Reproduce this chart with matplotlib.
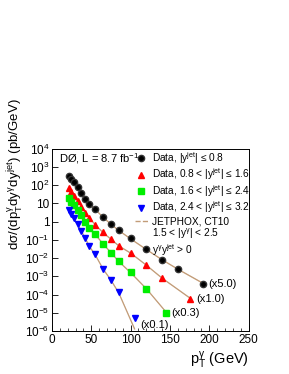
import numpy as np
import matplotlib
matplotlib.use('Agg')
import matplotlib.pyplot as plt
from matplotlib.lines import Line2D
from matplotlib.ticker import FixedLocator, MultipleLocator, LogLocator, NullFormatter

plt.rcParams['font.family'] = ['Liberation Sans', 'DejaVu Sans']
plt.rcParams['mathtext.fontset'] = 'custom'
plt.rcParams['mathtext.rm'] = 'Liberation Sans'
plt.rcParams['mathtext.it'] = 'Liberation Sans'

# values as plotted (already multiplied by the scale factor)
pt_y08 = [21.5, 24.5, 28, 32.5, 37.5, 42.5, 47.5, 55, 65, 75, 85, 100, 120, 140, 160, 192]
xs_y08 = [330, 230, 150, 85, 38, 17, 9.5, 4.8, 1.8, 0.72, 0.33, 0.12, 0.03, 0.008, 0.0025, 4e-4]
th_y08 = [320, 225, 145, 82, 38, 17.5, 9.5, 4.7, 1.75, 0.72, 0.33, 0.115, 0.03, 0.0082, 0.0025, 4.2e-4]

pt_y16 = [21.5, 24.5, 28, 32.5, 37.5, 42.5, 47.5, 55, 65, 75, 85, 100, 120, 140, 176]
xs_y16 = [75, 45, 26, 14, 6.5, 3.2, 1.6, 0.7, 0.26, 0.11, 0.048, 0.019, 0.004, 8e-4, 6e-5]
th_y16 = [72, 44, 25, 13.5, 6.5, 3.2, 1.6, 0.68, 0.25, 0.11, 0.047, 0.019, 0.0041, 8e-4, 6.2e-5]

pt_y24 = [21.5, 24.5, 28, 32.5, 37.5, 42.5, 47.5, 55, 65, 75, 85, 100, 120, 145]
xs_y24 = [20, 12, 8, 4.5, 2.2, 1.0, 0.48, 0.2, 0.06, 0.02, 6.6e-3, 1.7e-3, 2e-4, 1.0e-5]
th_y24 = [19, 12, 7.5, 4.3, 2.1, 1.0, 0.47, 0.2, 0.06, 0.02, 6.5e-3, 1.6e-3, 2.1e-4, 1.1e-5]

pt_y32 = [21.5, 24.5, 28, 32.5, 37.5, 42.5, 47.5, 55, 65, 75, 85, 105]
xs_y32 = [4.5, 2.6, 1.5, 0.75, 0.3, 0.12, 0.045, 0.016, 2.6e-3, 6.5e-4, 1.3e-4, 5e-6]
th_y32 = [4.3, 2.5, 1.4, 0.72, 0.29, 0.12, 0.044, 0.015, 2.5e-3, 6.2e-4, 1.2e-4, 1.3e-6]

scale_labels = ['(x5.0)', '(x1.0)', '(x0.3)', '(x0.1)']
leg_labels = ['Data, |y$^{\\rm jet}$| ≤ 0.8',
              'Data, 0.8 < |y$^{\\rm jet}$| ≤ 1.6',
              'Data, 1.6 < |y$^{\\rm jet}$| ≤ 2.4',
              'Data, 2.4 < |y$^{\\rm jet}$| ≤ 3.2']

series = [
    (pt_y08, xs_y08, th_y08, 'o', '#000000', 4.5),
    (pt_y16, xs_y16, th_y16, '^', '#ff0000', 4.5),
    (pt_y24, xs_y24, th_y24, 's', '#00ee00', 4.2),
    (pt_y32, xs_y32, th_y32, 'v', '#0000ff', 4.5),
]

fig = plt.figure(figsize=(2.89, 3.74), dpi=100)
ax = fig.add_axes([0.180, 0.115, 0.680, 0.487])

th_col = '#c29c78'
handles = []
for i, (pt, xs, th, mk, col, ms) in enumerate(series):
    th = np.array(th)
    ax.fill_between(pt, th * 0.93, th * 1.07, color='#e6d3bf', lw=0, zorder=1)
    ax.plot(pt, th, color=th_col, lw=0.9, zorder=2)
    h, = ax.plot(pt, xs, ls='none', marker=mk, color=col, ms=ms,
                 mec=col if i else '#333333', zorder=3)
    handles.append(h)
    dy = -5 if i == 3 else 0
    ax.annotate(scale_labels[i], (pt[-1], xs[-1]), xytext=(4, dy),
                textcoords='offset points', fontsize=8, va='center')

th_h = Line2D([], [], color=th_col, lw=1.0, ls='--')
blank = Line2D([], [], color='none')
ax.legend(handles + [th_h, blank, blank],
          leg_labels + ['JETPHOX, CT10', '1.5 < |y$^{\\gamma}$| < 2.5',
                        'y$^{\\gamma}$y$^{\\rm jet}$ > 0'],
          loc='upper left', bbox_to_anchor=(0.42, 0.995), frameon=False,
          fontsize=7.3, handlelength=1.3, handletextpad=0.45,
          labelspacing=0.08, borderpad=0, borderaxespad=0)

ax.text(0.035, 0.985, 'DØ, L = 8.7 fb$^{-1}$', transform=ax.transAxes,
        fontsize=8, va='top', ha='left')

ax.set_xlim(0, 250)
ax.set_yscale('log')
ax.set_ylim(1e-6, 1e4)
ax.xaxis.set_major_locator(MultipleLocator(50))
ax.xaxis.set_minor_locator(MultipleLocator(10))
ax.yaxis.set_major_locator(FixedLocator([10.0 ** k for k in range(-6, 5)]))
ax.yaxis.set_minor_locator(LogLocator(base=10, subs=np.arange(2, 10)))
ax.yaxis.set_minor_formatter(NullFormatter())

ylabs = []
for k in range(-6, 5):
    if k == 0:
        ylabs.append('1')
    elif k == 1:
        ylabs.append('10')
    else:
        ylabs.append(r'$10^{%d}$' % k)
ax.set_yticklabels(ylabs)

ax.tick_params(which='both', direction='in', top=False, right=False, labelsize=8.5, pad=2)
ax.tick_params(which='major', length=4, width=0.6)
ax.tick_params(which='minor', length=2, width=0.5)
for s in ax.spines.values():
    s.set_linewidth(0.7)

ax.set_ylabel(r'd$\sigma$/(d$p_{\rm T}^{\gamma}$d$y^{\gamma}$d$y^{\rm jet}$) (pb/GeV)', fontsize=9.5)
ax.yaxis.set_label_coords(-0.14, 0.86)
ax.set_xlabel(r'$p_{\rm T}^{\gamma}$ (GeV)', fontsize=10.5, ha='right')
ax.xaxis.set_label_coords(1.0, -0.10)

fig.savefig('out.png', dpi=100)
